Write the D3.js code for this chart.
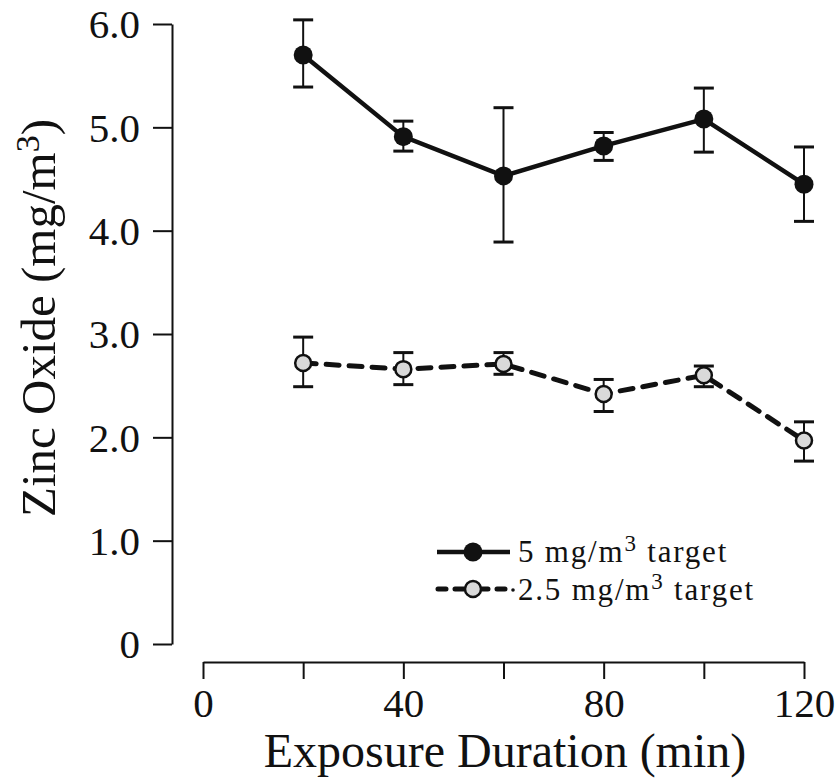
<!DOCTYPE html>
<html>
<head>
<meta charset="utf-8">
<script src="https://cdn.jsdelivr.net/npm/d3@7"></script>
<style>
  body { margin: 0; background: #fff; }
  svg text { font-family: "Liberation Serif", "DejaVu Serif", serif; fill: #111; }
</style>
</head>
<body>
<div id="chart"></div>
<script>
// exposure time points (min)
const times = [20, 40, 60, 80, 100, 120];
// 5 mg/m3 target series
const high = [5.70, 4.91, 4.53, 4.82, 5.08, 4.45];
const highLo = [5.39, 4.77, 3.89, 4.68, 4.76, 4.09];
const highHi = [6.04, 5.06, 5.19, 4.95, 5.38, 4.81];
// 2.5 mg/m3 target series
const low = [2.72, 2.66, 2.71, 2.42, 2.60, 1.97];
const lowLo = [2.49, 2.51, 2.61, 2.25, 2.49, 1.77];
const lowHi = [2.97, 2.82, 2.82, 2.56, 2.69, 2.15];
// ticks
const yTicks = [0, 1, 2, 3, 4, 5, 6];
const xTicks = [0, 20, 40, 60, 80, 100, 120];
const xLabels = [0, 40, 80, 120];

const width = 839, height = 784;
const svg = d3.select("#chart").append("svg")
  .attr("width", width).attr("height", height);

const x = d3.scaleLinear().domain([0, 120]).range([203, 804]);
const y = d3.scaleLinear().domain([0, 6]).range([644, 24]);

//BEGIN: AXES
const yAxis = svg.append("g")
  .attr("transform", "translate(172,0)")
  .call(d3.axisLeft(y).tickValues(yTicks).tickSize(19).tickSizeOuter(0)
    .tickPadding(13).tickFormat(d => d === 0 ? "0" : d3.format(".1f")(d)));
yAxis.selectAll("path, line").attr("stroke", "#111").attr("stroke-width", 2);
yAxis.selectAll("text").attr("font-size", 41).attr("dy", "0.34em");

const xAxis = svg.append("g")
  .attr("transform", "translate(0,662)")
  .call(d3.axisBottom(x).tickValues(xTicks).tickSize(17).tickSizeOuter(0)
    .tickPadding(8).tickFormat(d => xLabels.includes(d) ? d : ""));
xAxis.selectAll("path, line").attr("stroke", "#111").attr("stroke-width", 2);
xAxis.selectAll("text").attr("font-size", 41).attr("dy", "0.74em");

svg.append("text")
  .attr("transform", "translate(55,318) rotate(-90)")
  .attr("text-anchor", "middle")
  .attr("font-size", 49)
  .html('Zinc Oxide (mg/m<tspan dy="-16" font-size="34">3</tspan><tspan dy="16">)</tspan>');

svg.append("text")
  .attr("x", 505).attr("y", 767)
  .attr("text-anchor", "middle")
  .attr("font-size", 48)
  .text("Exposure Duration (min)");
//END: AXES

//BEGIN: SERIES
const line = d3.line().x((d, i) => x(times[i])).y(d => y(d));

function drawErrors(lo, hi) {
  const g = svg.append("g").attr("stroke", "#111");
  times.forEach((t, i) => {
    g.append("line").attr("x1", x(t)).attr("x2", x(t))
      .attr("y1", y(lo[i])).attr("y2", y(hi[i])).attr("stroke-width", 2);
    [lo[i], hi[i]].forEach(v => {
      g.append("line").attr("x1", x(t) - 10).attr("x2", x(t) + 10)
        .attr("y1", y(v)).attr("y2", y(v)).attr("stroke-width", 3);
    });
  });
}

drawErrors(highLo, highHi);
svg.append("path").datum(high).attr("d", line)
  .attr("fill", "none").attr("stroke", "#111").attr("stroke-width", 4.5);
svg.append("g").selectAll("circle").data(high).join("circle")
  .attr("cx", (d, i) => x(times[i])).attr("cy", d => y(d))
  .attr("r", 9.5).attr("fill", "#111");

drawErrors(lowLo, lowHi);
svg.append("path").datum(low).attr("d", line)
  .attr("fill", "none").attr("stroke", "#111").attr("stroke-width", 5)
  .attr("stroke-dasharray", "13,10").attr("stroke-linecap", "round");
svg.append("g").selectAll("circle").data(low).join("circle")
  .attr("cx", (d, i) => x(times[i])).attr("cy", d => y(d))
  .attr("r", 8).attr("fill", "#d9d9d9").attr("stroke", "#111").attr("stroke-width", 2.5);
//END: SERIES

//BEGIN: LEGEND
const leg = svg.append("g");
leg.append("line").attr("x1", 437).attr("x2", 510).attr("y1", 552).attr("y2", 552)
  .attr("stroke", "#111").attr("stroke-width", 4.5);
leg.append("circle").attr("cx", 473).attr("cy", 552).attr("r", 9.5).attr("fill", "#111");
leg.append("text").attr("x", 518).attr("y", 562).attr("font-size", 31)
  .attr("letter-spacing", 1.8)
  .html('5 mg/m<tspan dy="-11" font-size="23">3</tspan><tspan dy="11"> target</tspan>');

leg.append("line").attr("x1", 438).attr("x2", 506).attr("y1", 589).attr("y2", 589)
  .attr("stroke", "#111").attr("stroke-width", 5)
  .attr("stroke-dasharray", "8,9,33,9").attr("stroke-linecap", "round");
leg.append("circle").attr("cx", 513).attr("cy", 590).attr("r", 1.8).attr("fill", "#111");
leg.append("circle").attr("cx", 473).attr("cy", 589).attr("r", 8)
  .attr("fill", "#d9d9d9").attr("stroke", "#111").attr("stroke-width", 2.5);
leg.append("text").attr("x", 518).attr("y", 600).attr("font-size", 31)
  .attr("letter-spacing", 1.8)
  .html('2.5 mg/m<tspan dy="-11" font-size="23">3</tspan><tspan dy="11"> target</tspan>');
//END: LEGEND
</script>
</body>
</html>
